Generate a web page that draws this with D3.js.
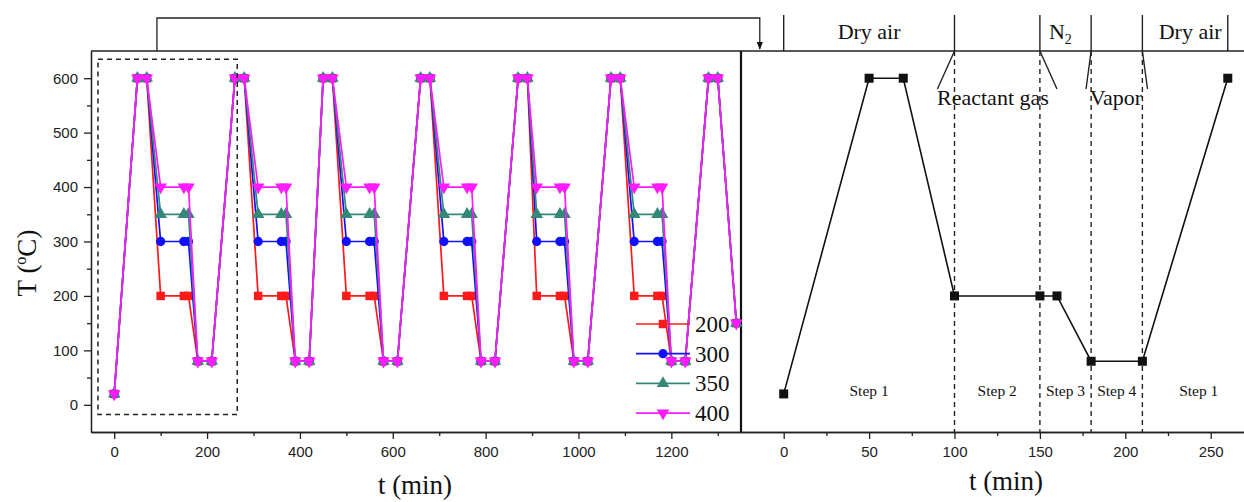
<!DOCTYPE html>
<html>
<head>
<meta charset="utf-8">
<script src="https://cdn.jsdelivr.net/npm/d3@7"></script>
<style>
body { margin: 0; background: #fff; }
svg { display: block; }
.serif { font-family: "Liberation Serif", "Times New Roman", serif; fill: #111; }
.axis text { font-family: "Liberation Sans", Arial, sans-serif; font-size: 15px; fill: #222; }
.axis path, .axis line { stroke: #222; stroke-width: 1.3; }
</style>
</head>
<body>
<svg width="1244" height="502"></svg>
<script>
// cycle times (min) of the left panel, shared by all four series
var cycleTime = [0, 50, 70, 100, 150, 160, 180, 210,
    260, 280, 310, 360, 370, 390, 420,
    450, 470, 500, 550, 560, 580, 610,
    660, 680, 710, 760, 770, 790, 820,
    870, 890, 910, 960, 970, 990, 1020,
    1070, 1090, 1120, 1170, 1180, 1200, 1230,
    1280, 1300, 1340];

var temp200 = [20, 600, 600, 200, 200, 200, 80, 80,
    600, 600, 200, 200, 200, 80, 80,
    600, 600, 200, 200, 200, 80, 80,
    600, 600, 200, 200, 200, 80, 80,
    600, 600, 200, 200, 200, 80, 80,
    600, 600, 200, 200, 200, 80, 80,
    600, 600, 150];
var temp300 = [20, 600, 600, 300, 300, 300, 80, 80,
    600, 600, 300, 300, 300, 80, 80,
    600, 600, 300, 300, 300, 80, 80,
    600, 600, 300, 300, 300, 80, 80,
    600, 600, 300, 300, 300, 80, 80,
    600, 600, 300, 300, 300, 80, 80,
    600, 600, 150];
var temp350 = [20, 600, 600, 350, 350, 350, 80, 80,
    600, 600, 350, 350, 350, 80, 80,
    600, 600, 350, 350, 350, 80, 80,
    600, 600, 350, 350, 350, 80, 80,
    600, 600, 350, 350, 350, 80, 80,
    600, 600, 350, 350, 350, 80, 80,
    600, 600, 150];
var temp400 = [20, 600, 600, 400, 400, 400, 80, 80,
    600, 600, 400, 400, 400, 80, 80,
    600, 600, 400, 400, 400, 80, 80,
    600, 600, 400, 400, 400, 80, 80,
    600, 600, 400, 400, 400, 80, 80,
    600, 600, 400, 400, 400, 80, 80,
    600, 600, 150];

var seriesNames = ['200', '300', '350', '400'];

// one cycle in detail (right panel)
var stepTime = [0, 50, 70, 100, 150, 160, 180, 210, 260];
var stepTemp = [20, 600, 600, 200, 200, 200, 80, 80, 600];
var stepBounds = [100, 150, 180, 210];
var stepLabels = ['Step 1', 'Step 2', 'Step 3', 'Step 4', 'Step 1'];
var stepLabelTime = [50, 125, 165, 195, 243];

// gas atmosphere header
var gasBounds = [0, 100, 150, 180, 210, 260];
var gasLabels = ['Dry air', 'N', 'Dry air'];
var gasLabelTime = [50, 162, 238];

// tick values
var leftTicks = [0, 200, 400, 600, 800, 1000, 1200];
var leftMinor = [100, 300, 500, 700, 900, 1100, 1300];
var tempTicks = [0, 100, 200, 300, 400, 500, 600];
var tempMinor = [50, 150, 250, 350, 450, 550];
var rightTicks = [0, 50, 100, 150, 200, 250];
var rightMinor = [25, 75, 125, 175, 225, 275];

var svg = d3.select('svg');

var topY = 51, bottomY = 432, leftX = 91, midX = 741;

var yT = d3.scaleLinear().domain([-50, 650]).range([bottomY, topY]);
var xL = d3.scaleLinear().domain([-50, 1350]).range([leftX, midX]);
var xR = d3.scaleLinear().domain([-25, 275]).range([midX, midX + 512.4]);

var fmt = d3.format('d');

// ---- axes ----
svg.append('g').attr('class', 'axis')
    .attr('transform', 'translate(0,' + bottomY + ')')
    .call(d3.axisBottom(xL).tickValues(leftTicks).tickFormat(fmt).tickSize(7).tickPadding(7).tickSizeOuter(0));
svg.append('g').attr('class', 'axis')
    .attr('transform', 'translate(0,' + bottomY + ')')
    .call(d3.axisBottom(xL).tickValues(leftMinor).tickSize(4).tickFormat('').tickSizeOuter(0));

svg.append('g').attr('class', 'axis')
    .attr('transform', 'translate(' + leftX + ',0)')
    .call(d3.axisLeft(yT).tickValues(tempTicks).tickFormat(fmt).tickSize(7).tickPadding(6).tickSizeOuter(0));
svg.append('g').attr('class', 'axis')
    .attr('transform', 'translate(' + leftX + ',0)')
    .call(d3.axisLeft(yT).tickValues(tempMinor).tickSize(4).tickFormat('').tickSizeOuter(0));

svg.append('g').attr('class', 'axis')
    .attr('transform', 'translate(0,' + bottomY + ')')
    .call(d3.axisBottom(xR).tickValues(rightTicks).tickFormat(fmt).tickSize(7).tickPadding(7).tickSizeOuter(0));
svg.append('g').attr('class', 'axis')
    .attr('transform', 'translate(0,' + bottomY + ')')
    .call(d3.axisBottom(xR).tickValues(rightMinor).tickSize(4).tickFormat('').tickSizeOuter(0));

// frame: top line across both panels and the divider
svg.append('line').attr('x1', leftX).attr('x2', 1244).attr('y1', topY).attr('y2', topY)
    .attr('stroke', '#222').attr('stroke-width', 1.5);
svg.append('line').attr('x1', midX).attr('x2', midX).attr('y1', topY).attr('y2', bottomY)
    .attr('stroke', '#111').attr('stroke-width', 2.2);

// ---- left panel ----
var colors = ['#ff1a1a', '#1010ff', '#338877', '#ff1aff'];
var symbols = [d3.symbolSquare, d3.symbolCircle, d3.symbolTriangle, d3.symbolTriangle];
var symSize = [72, 68, 68, 68];
var allTemps = [temp200, temp300, temp350, temp400];

var line = d3.line()
    .x(function(d) { return xL(d[0]); })
    .y(function(d) { return yT(d[1]); });

function markerTransform(i, x, y) {
    return 'translate(' + x + ',' + y + ')' + (i === 3 ? ' rotate(180)' : '');
}

allTemps.forEach(function(temps, i) {
    var pts = cycleTime.map(function(t, k) { return [t, temps[k]]; });
    var g = svg.append('g').attr('class', 'series s' + seriesNames[i]);
    g.append('path').datum(pts)
        .attr('d', line)
        .attr('fill', 'none')
        .attr('stroke', colors[i])
        .attr('stroke-width', 1.7);
    g.selectAll('path.mark').data(pts).enter()
        .append('path').attr('class', 'mark')
        .attr('d', d3.symbol().type(symbols[i]).size(symSize[i]))
        .attr('transform', function(d) { return markerTransform(i, xL(d[0]), yT(d[1])); })
        .attr('fill', colors[i]);
});

// dashed box around the first cycle
svg.append('rect')
    .attr('x', xL(-35)).attr('y', yT(635))
    .attr('width', xL(265) - xL(-35)).attr('height', yT(-18) - yT(635))
    .attr('fill', 'none').attr('stroke', '#222').attr('stroke-width', 1.5)
    .attr('stroke-dasharray', '5,4');

// legend
var legend = svg.append('g').attr('class', 'legend');
seriesNames.forEach(function(name, i) {
    var ly = 324 + i * 29.7;
    legend.append('line').attr('x1', 636).attr('x2', 690).attr('y1', ly).attr('y2', ly)
        .attr('stroke', colors[i]).attr('stroke-width', 1.7);
    legend.append('path')
        .attr('d', d3.symbol().type(symbols[i]).size(symSize[i]))
        .attr('transform', markerTransform(i, 663, ly))
        .attr('fill', colors[i]);
    legend.append('text').attr('class', 'serif')
        .attr('x', 695).attr('y', ly + 8)
        .style('font-size', '23px')
        .text(name);
});

// connector from the dashed box to the right panel
svg.append('defs').append('marker')
    .attr('id', 'arr').attr('viewBox', '0 0 10 10').attr('refX', 9).attr('refY', 5)
    .attr('markerWidth', 6).attr('markerHeight', 6).attr('orient', 'auto')
    .append('path').attr('d', 'M0,1 L10,5 L0,9 Z').attr('fill', '#111');
svg.append('path')
    .attr('d', 'M' + xL(92) + ',' + topY + ' V18 H' + xR(-14) + ' V49')
    .attr('fill', 'none').attr('stroke', '#222').attr('stroke-width', 1.3)
    .attr('marker-end', 'url(#arr)');

// ---- right panel ----
stepBounds.forEach(function(t) {
    svg.append('line')
        .attr('x1', xR(t)).attr('x2', xR(t)).attr('y1', topY).attr('y2', bottomY)
        .attr('stroke', '#222').attr('stroke-width', 1.4).attr('stroke-dasharray', '5,4');
});

var lineR = d3.line()
    .x(function(d) { return xR(d[0]); })
    .y(function(d) { return yT(d[1]); });
var stepPts = stepTime.map(function(t, k) { return [t, stepTemp[k]]; });
svg.append('path').datum(stepPts)
    .attr('d', lineR).attr('fill', 'none').attr('stroke', '#111').attr('stroke-width', 1.6);
svg.selectAll('rect.step').data(stepPts).enter()
    .append('rect').attr('class', 'step')
    .attr('x', function(d) { return xR(d[0]) - 4.5; })
    .attr('y', function(d) { return yT(d[1]) - 4.5; })
    .attr('width', 9).attr('height', 9)
    .attr('fill', '#111');

stepLabels.forEach(function(s, i) {
    svg.append('text').attr('class', 'serif')
        .attr('x', xR(stepLabelTime[i])).attr('y', 396)
        .attr('text-anchor', 'middle')
        .style('font-size', '15.5px')
        .text(s);
});

// gas header
gasBounds.forEach(function(t) {
    svg.append('line')
        .attr('x1', xR(t)).attr('x2', xR(t)).attr('y1', 15).attr('y2', topY)
        .attr('stroke', '#222').attr('stroke-width', 1.4);
});
gasLabels.forEach(function(s, i) {
    var t = svg.append('text').attr('class', 'serif')
        .attr('x', xR(gasLabelTime[i])).attr('y', 39)
        .attr('text-anchor', 'middle')
        .style('font-size', '22px')
        .text(s);
    if (s === 'N') {
        t.append('tspan').attr('dy', 5).style('font-size', '14px').text('2');
    }
});

// leader lines to the lower gas labels
var leaders = [[100, 90], [150, 160], [180, 177], [210, 213]];
leaders.forEach(function(p) {
    svg.append('line')
        .attr('x1', xR(p[0])).attr('y1', topY)
        .attr('x2', xR(p[1])).attr('y2', 89)
        .attr('stroke', '#222').attr('stroke-width', 1.4);
});
svg.append('text').attr('class', 'serif')
    .attr('x', xR(122.5)).attr('y', 105).attr('text-anchor', 'middle')
    .style('font-size', '22px').text('Reactant gas');
svg.append('text').attr('class', 'serif')
    .attr('x', xR(194.5)).attr('y', 105).attr('text-anchor', 'middle')
    .style('font-size', '22px').text('Vapor');

// ---- axis titles ----
svg.append('text').attr('class', 'serif')
    .attr('x', 415).attr('y', 494).attr('text-anchor', 'middle')
    .style('font-size', '27px').text('t (min)');
svg.append('text').attr('class', 'serif')
    .attr('x', 1006).attr('y', 490).attr('text-anchor', 'middle')
    .style('font-size', '27px').text('t (min)');

var yTitle = svg.append('text').attr('class', 'serif')
    .attr('transform', 'translate(36,263) rotate(-90)')
    .attr('text-anchor', 'middle')
    .style('font-size', '27px');
yTitle.append('tspan').text('T (');
yTitle.append('tspan').attr('dy', -10).style('font-size', '16px').text('o');
yTitle.append('tspan').attr('dy', 10).text('C)');
</script>
</body>
</html>
